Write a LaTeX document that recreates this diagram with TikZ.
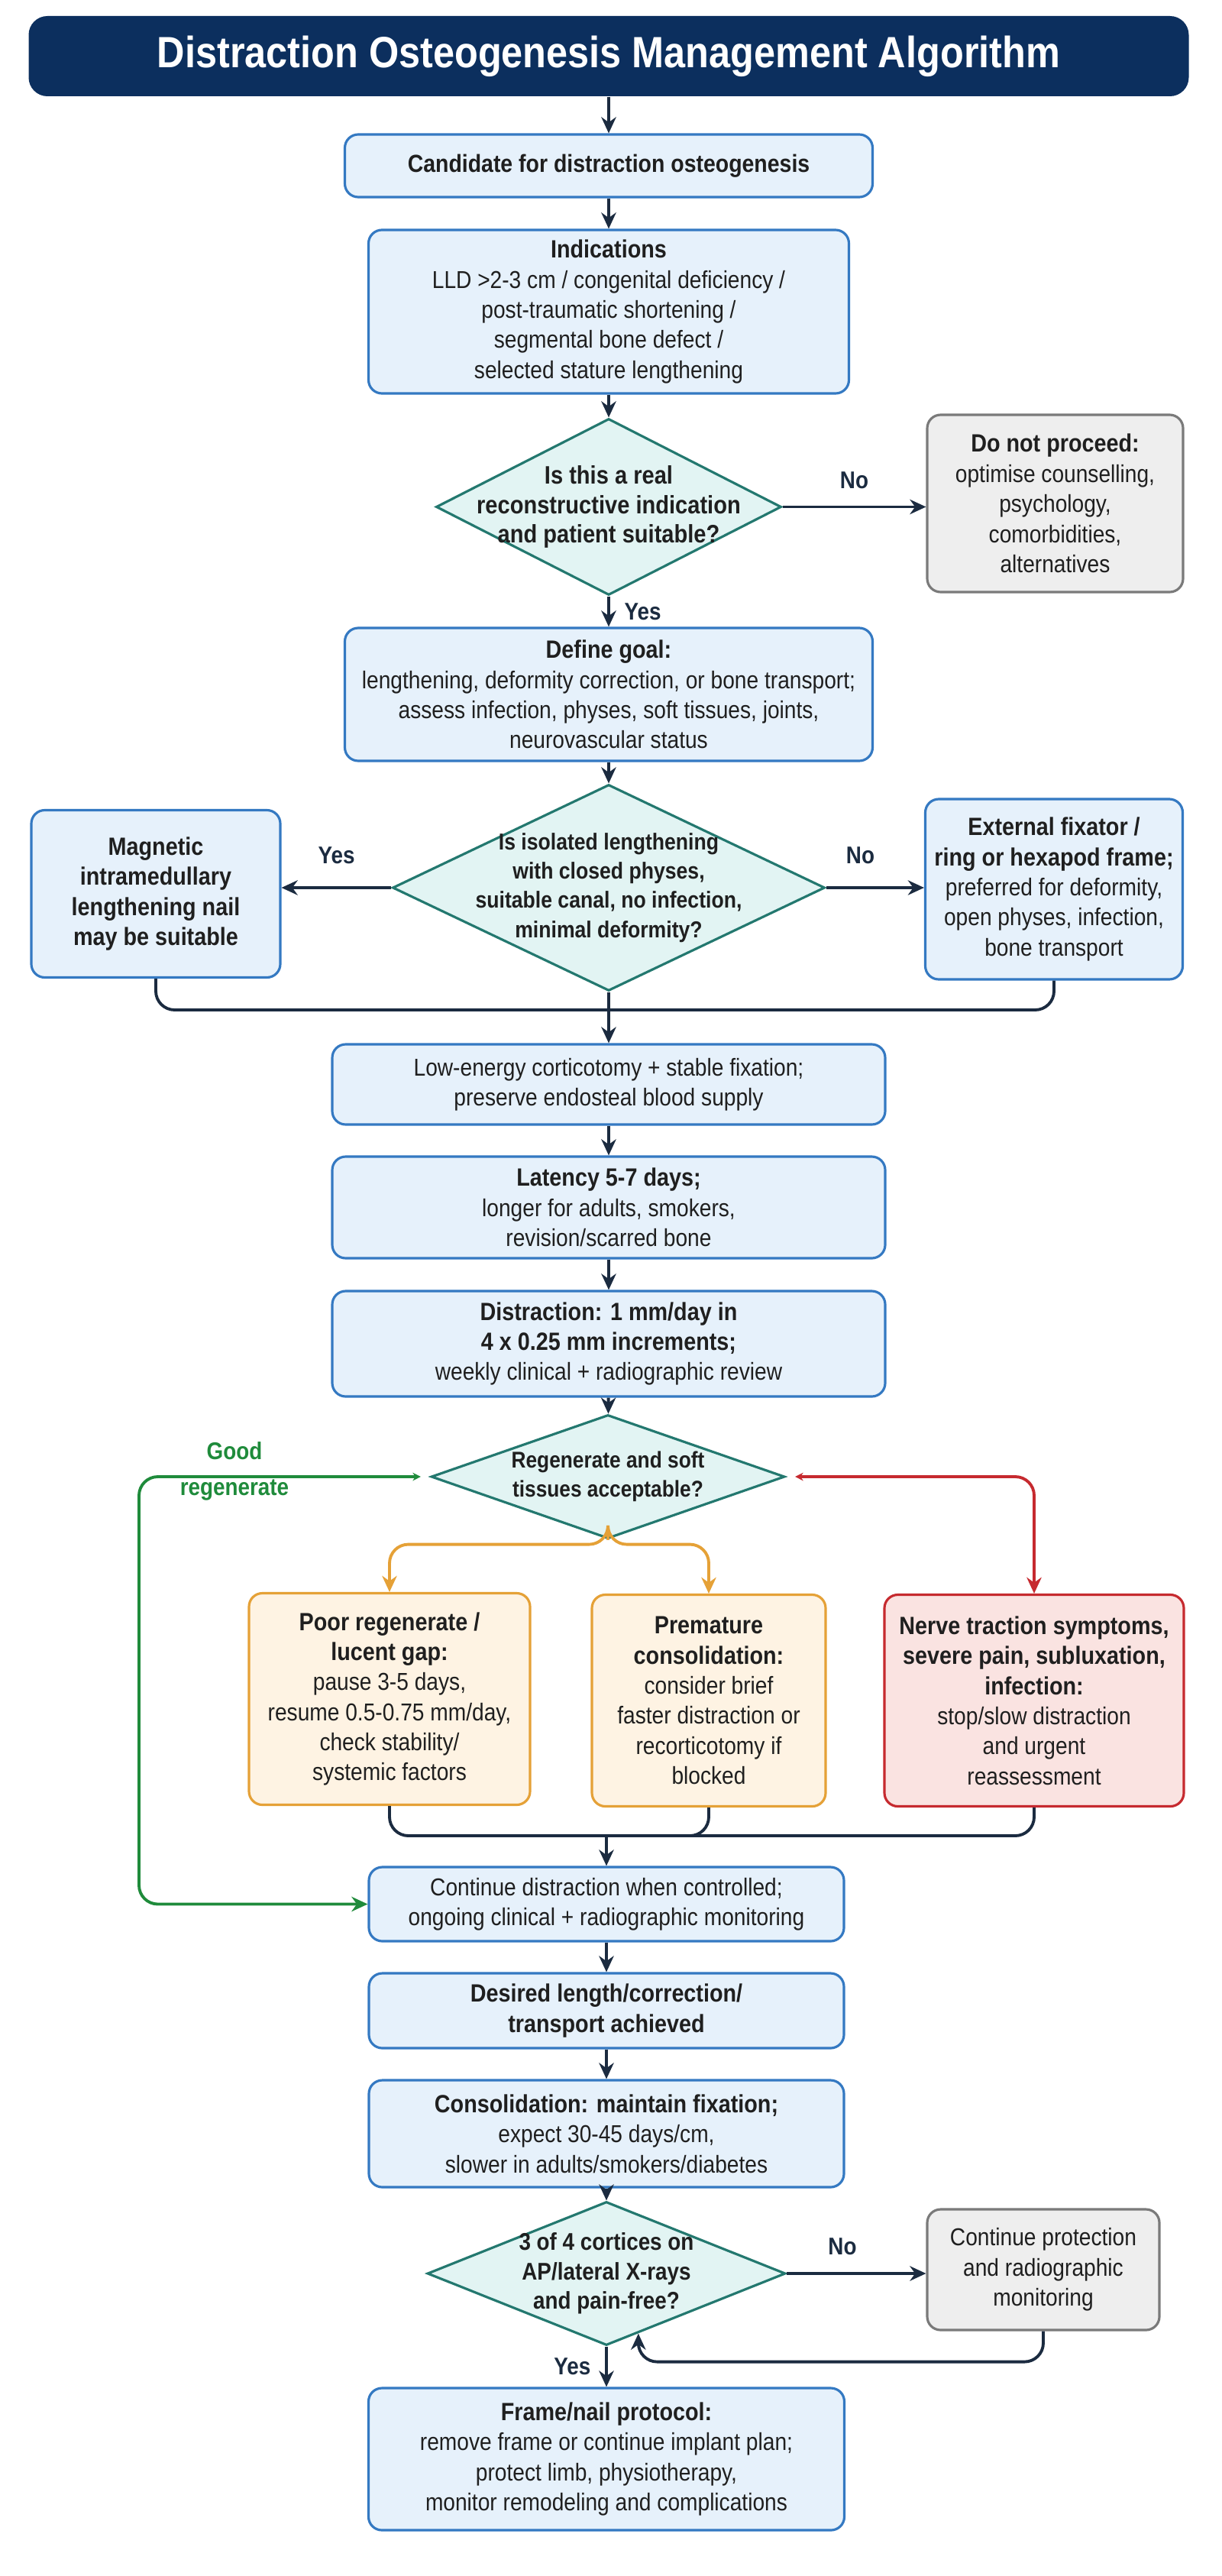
\documentclass[tikz,border=0pt]{standalone}
\usepackage{fontspec}
\setmainfont{Liberation Sans}[FakeStretch=0.88]
\usetikzlibrary{positioning,shapes.geometric,arrows.meta}
\definecolor{titlenavy}{HTML}{0C2F5E}
\definecolor{stepblue}{HTML}{3479C2}
\definecolor{stepfill}{HTML}{E6F1FB}
\definecolor{qteal}{HTML}{23786F}
\definecolor{qfill}{HTML}{E2F4F3}
\definecolor{stopgrey}{HTML}{7A7A7A}
\definecolor{stopfill}{HTML}{EEEEEE}
\definecolor{warnorange}{HTML}{E5A137}
\definecolor{warnfill}{HTML}{FEF3E3}
\definecolor{alarmred}{HTML}{C62A2F}
\definecolor{alarmfill}{HTML}{FAE3E1}
\definecolor{goodgreen}{HTML}{1F8B3B}
\definecolor{linkdark}{HTML}{1B2B40}
\newcommand{\hd}{\fontsize{9.3}{11.4}\selectfont\bfseries}
\begin{document}
\begin{tikzpicture}[
        every node/.style={font=\fontsize{9.1}{11.2}\selectfont, text=black!88},
        stepbox/.style={draw=stepblue, fill=stepfill, line width=0.9pt, rounded corners=5pt, align=center, inner sep=2pt},
        stopbox/.style={stepbox, draw=stopgrey, fill=stopfill},
        warnbox/.style={stepbox, draw=warnorange, fill=warnfill},
        alarmbox/.style={stepbox, draw=alarmred, fill=alarmfill},
        qbox/.style={diamond, draw=qteal, fill=qfill, line width=0.9pt, inner sep=0pt},
        qtext/.style={align=center, font=\fontsize{8.5}{10.9}\selectfont\bfseries},
        lbl/.style={font=\fontsize{9}{11}\selectfont\bfseries, text=linkdark},
        link/.style={draw=linkdark, line width=1.1pt, rounded corners=7pt},
        arr/.style={link, -{Stealth[length=6pt,width=5.5pt]}},
        tinytip/.style={{Stealth[length=3pt,width=3pt]}-{Stealth[length=6pt,width=5.5pt]}, shorten <=1.2mm}
    ]
    \fill[white] (0,0) rectangle (16,-33.72);
    \useasboundingbox (0,0) rectangle (16,-33.72);

    \node[fill=titlenavy, rounded corners=7pt, minimum width=15.19cm, minimum height=1.05cm,
        text=white, font=\fontsize{16.3}{20}\selectfont\bfseries] (title) at (7.97,-0.735)
        {Distraction Osteogenesis Management Algorithm};

    \begin{scope}[every node/.append style={stepbox}]
        \node[minimum width=6.91cm, minimum height=0.82cm] (cand) at (7.97,-2.17)
            {\fontsize{9.2}{12}\selectfont\bfseries Candidate for distraction osteogenesis};
        \node[minimum width=6.29cm, minimum height=2.14cm] (ind) at (7.97,-4.08)
            {{\hd Indications}\\LLD >2-3 cm / congenital deficiency /\\post-traumatic shortening /\\segmental bone defect /\\selected stature lengthening};
        \node[minimum width=6.91cm, minimum height=1.74cm] (goal) at (7.97,-9.09)
            {{\hd Define goal:}\\lengthening, deformity correction, or bone transport;\\assess infection, physes, soft tissues, joints,\\neurovascular status};
        \node[minimum width=3.26cm, minimum height=2.19cm] (nail) at (2.04,-11.70)
            {\hd Magnetic\\\hd intramedullary\\\hd lengthening nail\\\hd may be suitable};
        \node[minimum width=3.37cm, minimum height=2.36cm] (frame) at (13.80,-11.64)
            {{\hd External fixator /}\\{\hd ring or hexapod frame;}\\preferred for deformity,\\open physes, infection,\\bone transport};
        \node[minimum width=7.24cm, minimum height=1.05cm] (cort) at (7.97,-14.195)
            {Low-energy corticotomy + stable fixation;\\preserve endosteal blood supply};
        \node[minimum width=7.24cm, minimum height=1.33cm] (lat) at (7.97,-15.805)
            {{\hd Latency 5-7 days;}\\longer for adults, smokers,\\revision/scarred bone};
        \node[minimum width=7.24cm, minimum height=1.38cm] (dist) at (7.97,-17.59)
            {{\hd Distraction: 1 mm/day in}\\{\hd 4 x 0.25 mm increments;}\\weekly clinical + radiographic review};
        \node[minimum width=6.22cm, minimum height=0.97cm] (cont) at (7.94,-24.925)
            {Continue distraction when controlled;\\ongoing clinical + radiographic monitoring};
        \node[minimum width=6.22cm, minimum height=0.98cm] (desired) at (7.94,-26.32)
            {{\hd Desired length/correction/}\\{\hd transport achieved}};
        \node[minimum width=6.22cm, minimum height=1.40cm] (consol) at (7.94,-27.93)
            {{\hd Consolidation: maintain fixation;}\\expect 30-45 days/cm,\\slower in adults/smokers/diabetes};
        \node[minimum width=6.23cm, minimum height=1.86cm] (fin) at (7.94,-32.19)
            {{\hd Frame/nail protocol:}\\remove frame or continue implant plan;\\protect limb, physiotherapy,\\monitor remodeling and complications};
    \end{scope}

    \begin{scope}[every node/.append style={stopbox}]
        \node[minimum width=3.35cm, minimum height=2.32cm] (stop) at (13.815,-6.59)
            {{\hd Do not proceed:}\\optimise counselling,\\psychology,\\comorbidities,\\alternatives};
        \node[minimum width=3.04cm, minimum height=1.58cm] (prot) at (13.66,-29.71)
            {Continue protection\\and radiographic\\monitoring};
    \end{scope}

    \begin{scope}[every node/.append style={minimum height=2.77cm}]
        \node[warnbox, minimum width=3.68cm] (poor) at (5.10,-22.24)
            {{\hd Poor regenerate /}\\{\hd lucent gap:}\\pause 3-5 days,\\resume 0.5-0.75 mm/day,\\check stability/\\systemic factors};
        \node[warnbox, minimum width=3.06cm] (prem) at (9.28,-22.26)
            {{\hd Premature}\\{\hd consolidation:}\\consider brief\\faster distraction or\\recorticotomy if\\blocked};
        \node[alarmbox, minimum width=3.92cm] (nerve) at (13.54,-22.26)
            {{\hd Nerve traction symptoms,}\\{\hd severe pain, subluxation,}\\{\hd infection:}\\stop/slow distraction\\and urgent\\reassessment};
    \end{scope}

    \node[qbox, minimum width=4.52cm, minimum height=2.31cm] (q1) at (7.97,-6.635) {};
    \node[qtext, font=\fontsize{9.4}{10.9}\selectfont\bfseries] (q1t) at (q1)
        {Is this a real\\reconstructive indication\\and patient suitable?};
    \node[qbox, minimum width=5.66cm, minimum height=2.70cm] (q2) at (7.97,-11.62) {};
    \node[qtext, font=\fontsize{8.6}{10.9}\selectfont\bfseries] (q2t) at (q2)
        {Is isolated lengthening\\with closed physes,\\suitable canal, no infection,\\minimal deformity?};
    \node[qbox, minimum width=4.63cm, minimum height=1.62cm] (q3) at (7.96,-19.33) {};
    \node[qtext] (q3t) at (q3) {Regenerate and soft\\tissues acceptable?};
    \node[qbox, minimum width=4.69cm, minimum height=1.88cm] (q4) at (7.94,-29.76) {};
    \node[qtext, font=\fontsize{9}{10.9}\selectfont\bfseries] (q4t) at (q4)
        {3 of 4 cortices on\\AP/lateral X-rays\\and pain-free?};

    \coordinate (m1) at (7.97,-13.22);
    \coordinate (m2) at (7.94,-24.03);
    \coordinate (gl) at (1.82,-24.925);

    \draw[arr] (title) -- (cand);
    \draw[arr] (cand) -- (ind);
    \draw[arr] (ind) -- (q1);
    \draw[arr] (q1) -- node[lbl, right=2pt] {Yes} (goal);
    \draw[arr] (q1.east) -- node[lbl, above=3pt] {No} (q1.east -| stop.west);
    \draw[arr] (goal) -- (q2);
    \draw[arr] (q2.west) -- node[lbl, above=5pt] {Yes} (q2.west -| nail.east);
    \draw[arr] (q2.east) -- node[lbl, above=5pt, pos=0.35] {No} (q2.east -| frame.west);
    \draw[link] (nail.south) |- (m1);
    \draw[link] (frame.south) |- (m1);
    \draw[arr] (q2) -- (cort);
    \draw[arr] (cort) -- (lat);
    \draw[arr] (lat) -- (dist);
    \draw[arr] (dist) -- (q3);

    \draw[link, draw=warnorange, -{Stealth[length=6pt,width=5.5pt]}] (q3.south) -- ++(0,-0.06) -| (poor.north);
    \draw[link, draw=warnorange, -{Stealth[length=6pt,width=5.5pt]}] (q3.south) -- ++(0,-0.06) -| (prem.north);
    \draw[link, draw=alarmred, tinytip] (q3.east) -| (nerve.north);
    \draw[link, draw=goodgreen, tinytip] (q3.west) -| (gl) -- (cont.west);
    \node[font=\fontsize{9}{13.5}\selectfont\bfseries, text=goodgreen, align=center] (goodlbl) at (3.07,-19.26)
        {Good\\regenerate};

    \draw[link] (poor.south) |- (m2);
    \draw[link] (prem.south) |- (m2);
    \draw[link] (nerve.south) |- (m2);
    \draw[arr] (m2) -- (cont);
    \draw[arr] (cont) -- (desired);
    \draw[arr] (desired) -- (consol);
    \draw[arr] (consol) -- (q4);
    \draw[arr] (q4.east) -- node[lbl, above=3pt, pos=0.4] {No} (q4.east -| prot.west);
    \draw[arr] (q4) -- node[lbl, left=2pt] {Yes} (fin);
    \draw[arr] (prot.south) -- ++(0,-0.4) -| (q4.-62);
\end{tikzpicture}
\end{document}
